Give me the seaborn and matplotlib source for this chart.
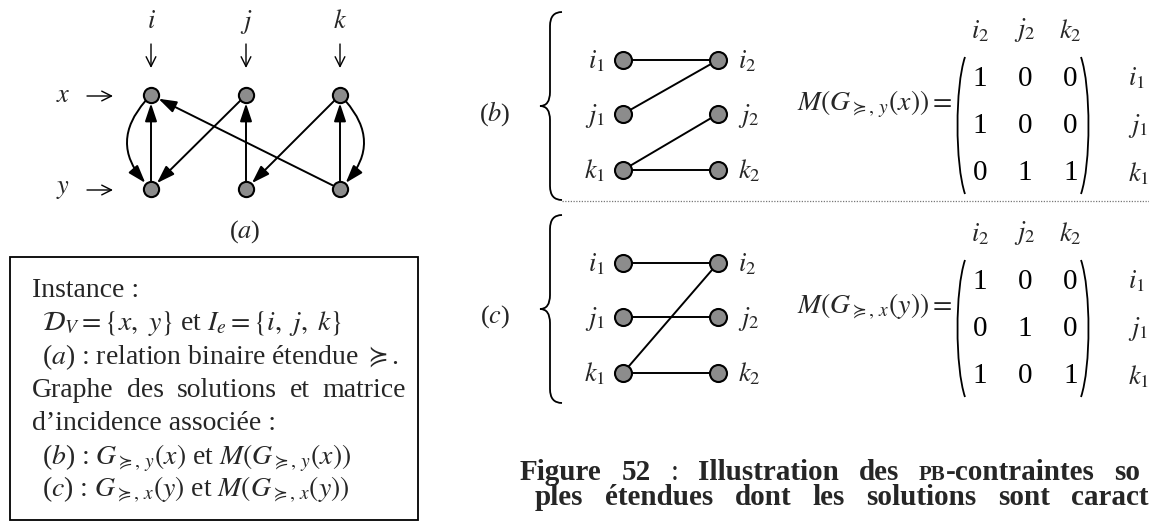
import pandas as pd
import seaborn as sns
import matplotlib.pyplot as plt
from matplotlib.path import Path
from matplotlib.patches import PathPatch, Rectangle
from matplotlib.colors import ListedColormap

W, H = 1149, 523

# --- donnees du schema ---
items = ['i', 'j', 'k']
levels = ['x', 'y']
# relation binaire etendue : (item depart, niveau depart, item arrivee, niveau arrivee, courbure)
relation = [
    ('i', 'x', 'i', 'y', 0.5),
    ('i', 'y', 'i', 'x', 0.0),
    ('j', 'x', 'i', 'y', 0.0),
    ('k', 'y', 'i', 'x', 0.0),
    ('j', 'y', 'j', 'x', 0.0),
    ('k', 'x', 'j', 'y', 0.0),
    ('k', 'y', 'k', 'x', 0.0),
    ('k', 'x', 'k', 'y', -0.5),
]
matrix_b = [[1, 0, 0], [1, 0, 0], [0, 1, 1]]
matrix_c = [[1, 0, 0], [0, 1, 0], [1, 0, 1]]
row_labels = [r'$i_1$', r'$j_1$', r'$k_1$']
col_labels = [r'$i_2$', r'$j_2$', r'$k_2$']

sns.set_theme(style='white')
plt.rcParams['font.family'] = ['Liberation Serif', 'DejaVu Serif']
plt.rcParams['mathtext.fontset'] = 'stix'

fig = plt.figure(figsize=(W / 100, H / 100), dpi=100)
ax = fig.add_axes([0, 0, 1, 1])
NODE = '#8c8c8c'

# --- (a) graphe de la relation ---
col_x = dict(zip(items, [151, 246, 340]))
lev_y = dict(zip(levels, [95, 189]))
nodes_a = pd.DataFrame([(col_x[it], lev_y[lv]) for lv in levels for it in items], columns=['px', 'py'])
sns.scatterplot(data=nodes_a, x='px', y='py', ax=ax, s=120, color=NODE,
                edgecolor='black', linewidth=1.5, zorder=4)

for fi, fl, ti, tl, bend in relation:
    ax.annotate('', xy=(col_x[ti], lev_y[tl]), xytext=(col_x[fi], lev_y[fl]),
                arrowprops=dict(arrowstyle='-|>,head_length=0.9,head_width=0.3', mutation_scale=12,
                                lw=1.4, color='black', shrinkA=6, shrinkB=6,
                                connectionstyle=f'arc3,rad={bend}'))

thin = dict(arrowstyle='->,head_length=0.5,head_width=0.25', mutation_scale=14, lw=1.0, color='black',
            shrinkA=0, shrinkB=0)
for it in items:
    ax.text(col_x[it], 22, f'${it}$', ha='center', va='center', fontsize=19)
    ax.annotate('', xy=(col_x[it], 68), xytext=(col_x[it], 44), arrowprops=thin)
for lv in levels:
    ax.text(63, lev_y[lv] + 1, f'${lv}$', ha='center', va='center', fontsize=19)
    ax.annotate('', xy=(113, lev_y[lv] + 1), xytext=(87, lev_y[lv] + 1), arrowprops=thin)
ax.text(245, 232, r'($a$)', ha='center', va='center', fontsize=19)

# --- encadre ---
ax.add_patch(Rectangle((10, 257), 408, 263, fill=False, lw=1.3, ec='black'))
renderer = fig.canvas.get_renderer()


def spread(words, x0, x1, y):
    # words : liste de mots, chaque mot = liste de (texte, style) colles
    groups, widths = [], []
    for pieces in words:
        ts = [ax.text(0, y, t, **kw) for t, kw in pieces]
        groups.append(ts)
        widths.append(sum(t.get_window_extent(renderer).width for t in ts))
    gap = (x1 - x0 - sum(widths)) / (len(words) - 1)
    x = x0
    for ts, w in zip(groups, widths):
        for t in ts:
            t.set_x(x)
            x += t.get_window_extent(renderer).width
        x += gap


box_kw = dict(fontsize=20, va='baseline')
ax.text(32, 297, 'Instance :', **box_kw)
ax.text(42, 330, r'$\mathcal{D}_V = \{x,\ y\}$ et $I_e = \{i,\ j,\ k\}$', **box_kw)
ax.text(42, 364, r'($a$) : relation binaire étendue $\succcurlyeq$.', **box_kw)
spread([[(w, box_kw)] for w in ['Graphe', 'des', 'solutions', 'et', 'matrice']], 32, 406, 397)
ax.text(32, 430, 'd’incidence associée :', **box_kw)
ax.text(42, 464, r'($b$) : $G_{\succcurlyeq,\,y}(x)$ et $M(G_{\succcurlyeq,\,y}(x))$', **box_kw)
ax.text(42, 497, r'($c$) : $G_{\succcurlyeq,\,x}(y)$ et $M(G_{\succcurlyeq,\,x}(y))$', **box_kw)


# --- (b) et (c) graphes des solutions + matrices ---
def brace(top, bot, x=550):
    mid = (top + bot) / 2
    v = [(x + 12, top), (x, top), (x, top + 14), (x, mid - 14), (x, mid), (x - 10, mid),
         (x, mid), (x, mid + 14), (x, bot - 14), (x, bot), (x + 12, bot)]
    c = [Path.MOVETO, Path.CURVE3, Path.CURVE3, Path.LINETO, Path.CURVE3, Path.CURVE3,
         Path.CURVE3, Path.CURVE3, Path.LINETO, Path.CURVE3, Path.CURVE3]
    ax.add_patch(PathPatch(Path(v, c), fill=False, lw=1.3, ec='black'))


def paren(x_end, x_mid, top, bot):
    v = [(x_end, top), (x_mid, top + 30), (x_mid, bot - 30), (x_end, bot)]
    c = [Path.MOVETO, Path.CURVE4, Path.CURVE4, Path.CURVE4]
    ax.add_patch(PathPatch(Path(v, c), fill=False, lw=1.3, ec='black'))


left_x, right_x = 623, 718
panels = [('b', matrix_b, 'y', 'x', 0), ('c', matrix_c, 'x', 'y', 203)]
for name, mat, sub, arg, off in panels:
    ys = [60 + off, 114 + off, 170 + off]
    brace(12 + off, 200 + off)
    ax.text(495, 114 + off, f'(${name}$)', ha='center', va='center', fontsize=19)
    for r in range(3):
        for c in range(3):
            if mat[r][c]:
                ax.plot([left_x, right_x], [ys[r], ys[c]], color='black', lw=1.4, zorder=2)
    nodes = pd.DataFrame({'px': [left_x] * 3 + [right_x] * 3, 'py': ys + ys})
    sns.scatterplot(data=nodes, x='px', y='py', ax=ax, s=150, color=NODE,
                    edgecolor='black', linewidth=1.5, zorder=4)
    for r in range(3):
        ax.text(605, ys[r] + 8, row_labels[r], ha='right', va='baseline', fontsize=19)
        ax.text(738, ys[r] + 8, col_labels[r], ha='left', va='baseline', fontsize=19)

    ax.text(952, 104 + off, rf'$M(G_{{\succcurlyeq,\,{sub}}}({arg})) =$', ha='right', va='center', fontsize=20)
    paren(965, 955, 57 + off, 194 + off)
    paren(1081, 1091, 57 + off, 194 + off)
    axm = fig.add_axes([957 / W, 1 - (197 + off) / H, 136 / W, 142 / H])
    sns.heatmap(pd.DataFrame(mat, index=row_labels, columns=col_labels), ax=axm, annot=True, fmt='d',
                cmap=ListedColormap([(1, 1, 1, 0)]), cbar=False,
                annot_kws=dict(fontsize=21, color='black'))
    axm.set_facecolor('none')
    axm.patch.set_alpha(0)
    axm.xaxis.tick_top()
    axm.yaxis.tick_right()
    axm.tick_params(length=0, labelsize=19)
    axm.tick_params(axis='x', pad=8)
    axm.tick_params(axis='y', pad=25)
    plt.setp(axm.get_yticklabels(), rotation=0, va='center')
    axm.set_xlabel('')
    axm.set_ylabel('')
    for s in axm.spines.values():
        s.set_visible(False)

ax.plot([562, W], [201, 201], ls=(0, (1, 1.2)), color='#777777', lw=0.9)

# --- legende (justifiee, coupee au bord droit) ---
cap = dict(fontsize=21, fontweight='bold', va='baseline')
reg = dict(fontsize=21, va='baseline')
small = dict(fontsize=15, fontweight='bold', va='baseline')
line1 = [[('Figure', cap)], [('52', cap)], [(':', reg)], [('Illustration', cap)], [('des', cap)],
         [('PB', small), ('-contraintes', cap)], [('so', cap)]]
line2 = [[(w, cap)] for w in ['ples', 'étendues', 'dont', 'les', 'solutions', 'sont', 'caract']]
spread(line1, 520, 1140, 480)
spread(line2, 535, 1149, 505)

ax.set_xlim(0, W)
ax.set_ylim(H, 0)
ax.axis('off')
fig.savefig('out.png', dpi=100)
